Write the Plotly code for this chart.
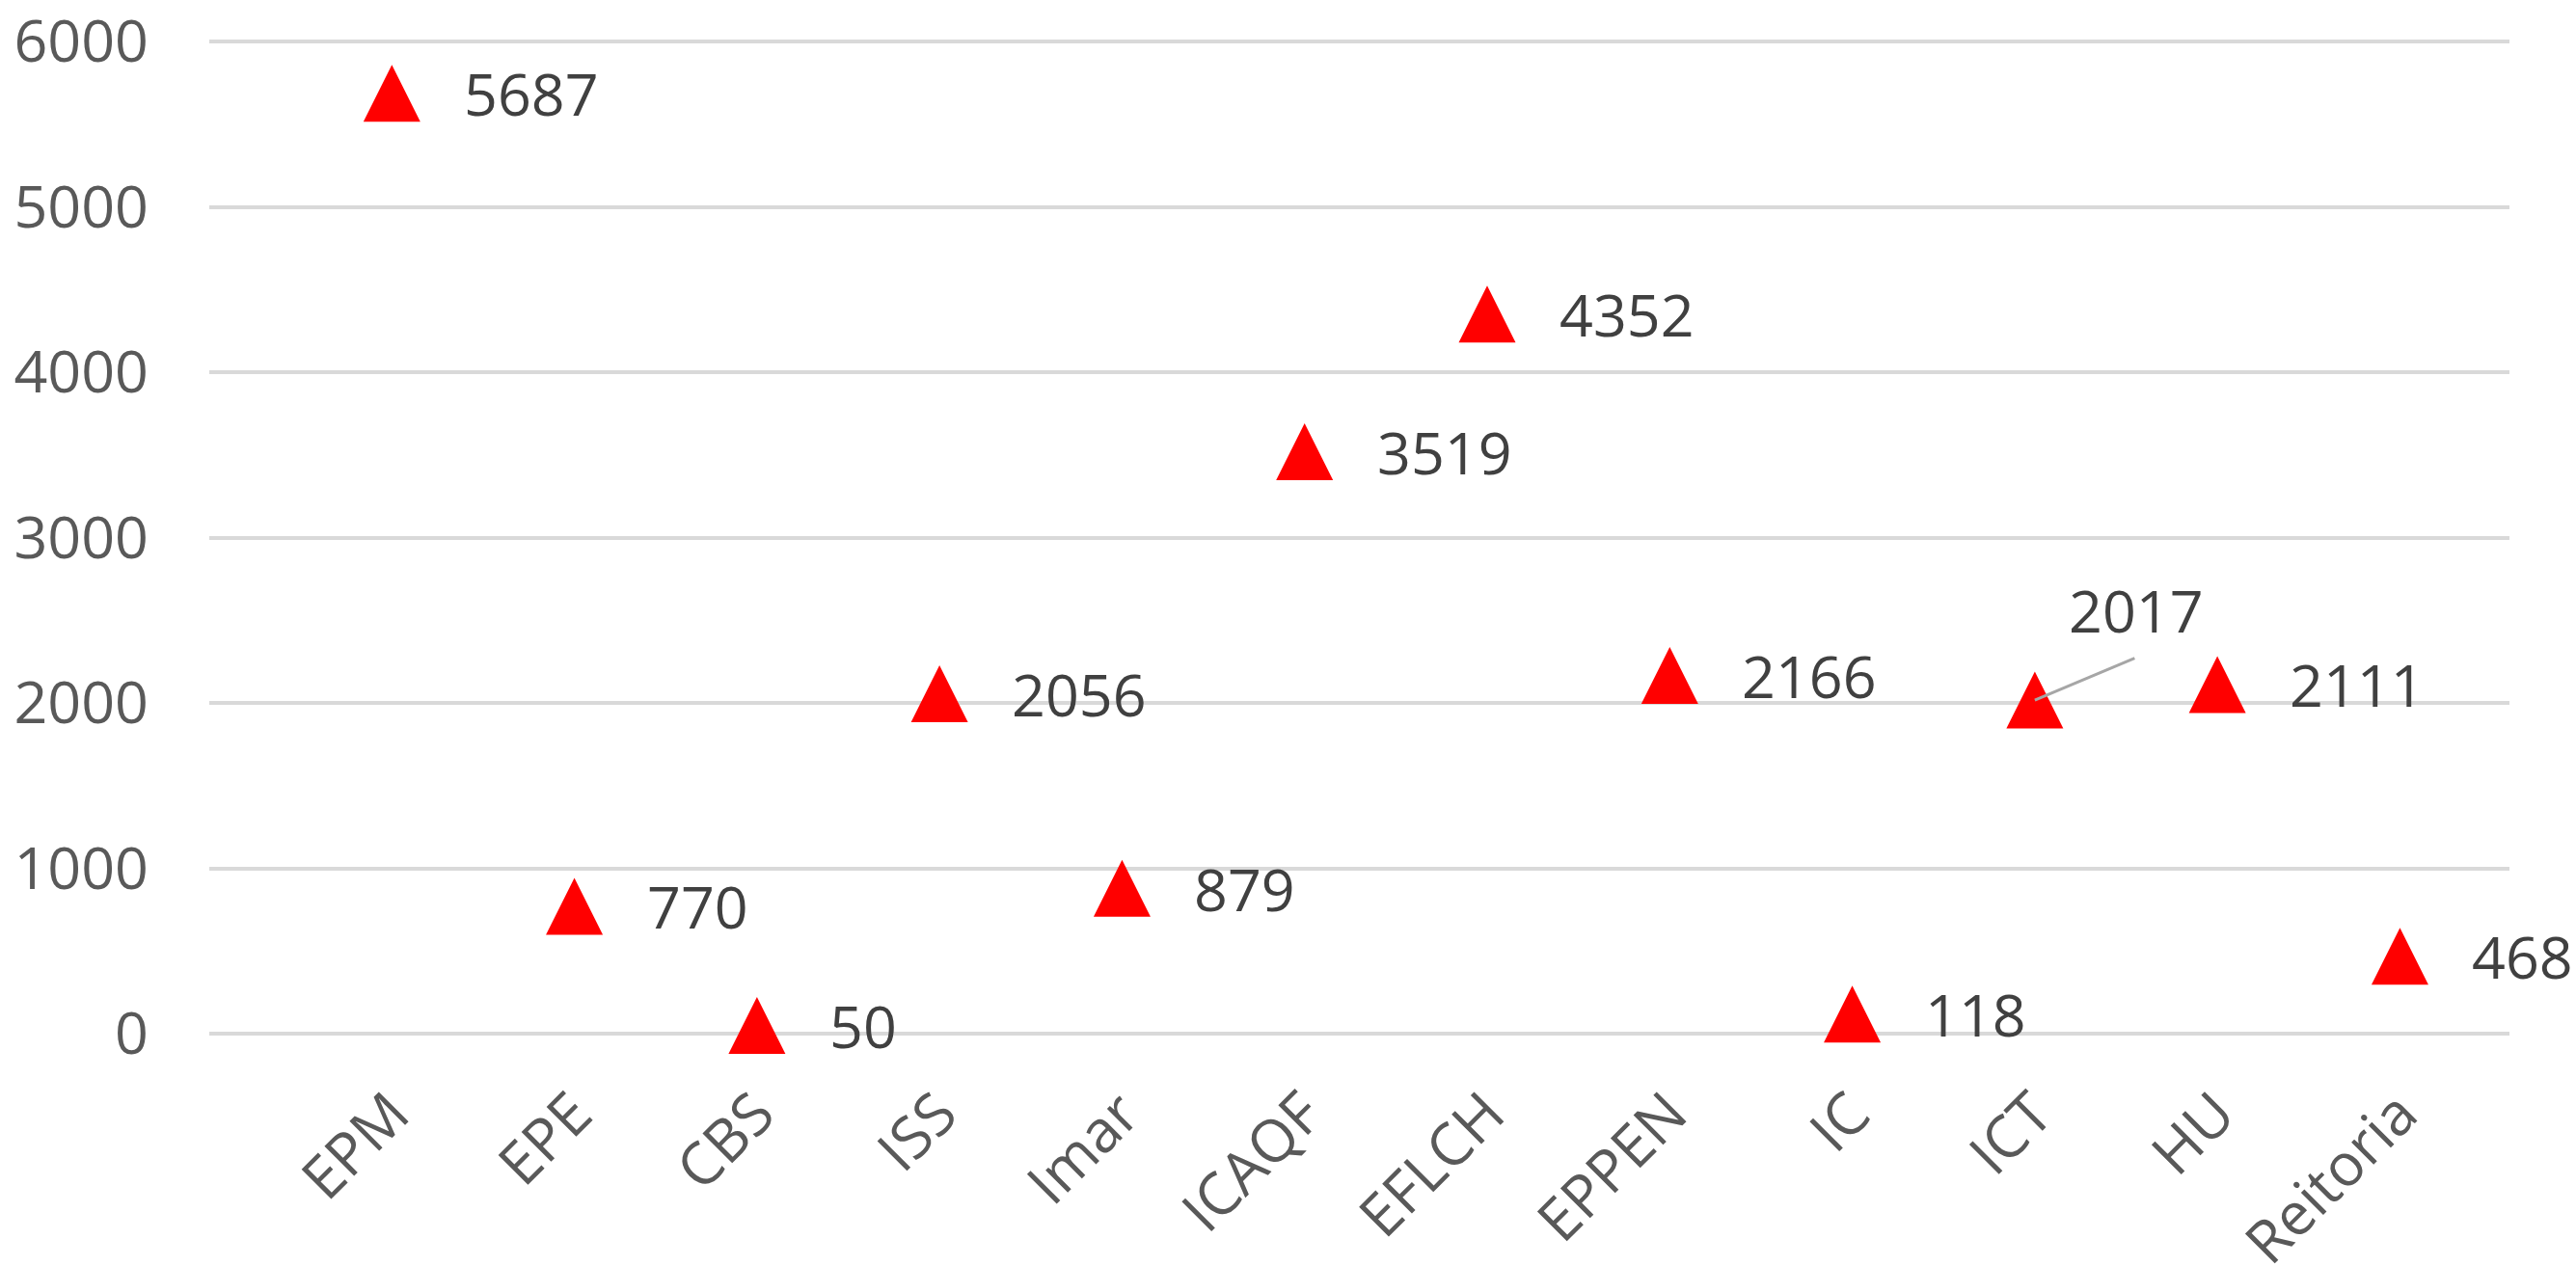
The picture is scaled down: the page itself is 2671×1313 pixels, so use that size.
import plotly.graph_objects as go

categories = ["EPM", "EPE", "CBS", "ISS", "Imar", "ICAQF", "EFLCH", "EPPEN", "IC", "ICT", "HU", "Reitoria"]
values = [5687, 770, 50, 2056, 879, 3519, 4352, 2166, 118, 2017, 2111, 468]
y_ticks = [0, 1000, 2000, 3000, 4000, 5000, 6000]

FONT = "Open Sans"
FS = 61
TICK_COLOR = "#595959"
LABEL_COLOR = "#404040"

fig = go.Figure()
fig.add_trace(go.Scatter(
    x=categories, y=values, mode="markers",
    marker=dict(symbol="arrow-down", angle=180, standoff=29.5, size=59,
                color="#ff0000", line=dict(width=0)),
    cliponaxis=False, showlegend=False, hoverinfo="skip",
))

annotations = []
for c, v in zip(categories, values):
    if c == "ICT":
        annotations.append(dict(x=c, y=v, xref="x", yref="y", text="", showarrow=True,
                                ax=105, ay=-44, arrowhead=0, arrowwidth=3,
                                arrowcolor="#a6a6a6", standoff=0, startstandoff=0))
        annotations.append(dict(x=c, y=v, xref="x", yref="y", text=str(v), showarrow=False,
                                xanchor="center", yanchor="middle", xshift=105, yshift=94,
                                font=dict(family=FONT, size=FS, color=LABEL_COLOR)))
    else:
        annotations.append(dict(x=c, y=v, xref="x", yref="y", text=str(v), showarrow=False,
                                xanchor="left", yanchor="middle", xshift=73,
                                font=dict(family=FONT, size=FS, color=LABEL_COLOR)))

fig.update_layout(
    width=2671, height=1313,
    margin=dict(l=217, r=69, t=41, b=241, pad=0),
    paper_bgcolor="white", plot_bgcolor="white",
    font=dict(family=FONT, size=FS, color=TICK_COLOR),
    annotations=annotations,
    xaxis=dict(type="category", categoryorder="array", categoryarray=categories,
               range=[-1.0, 11.6], showgrid=False, zeroline=False, showline=False,
               automargin=False, ticklabeloverflow="allow",
               tickangle=-45, ticks="", tickfont=dict(family=FONT, size=FS, color=TICK_COLOR),
               ticklabelstandoff=34),
    yaxis=dict(range=[0, 6012], tickvals=y_ticks, ticktext=[str(t) for t in y_ticks],
               automargin=False, ticklabeloverflow="allow",
               showgrid=True, gridcolor="#d9d9d9", gridwidth=4,
               zeroline=True, zerolinecolor="#d9d9d9", zerolinewidth=4,
               showline=False, ticks="", ticklabelstandoff=62,
               tickfont=dict(family=FONT, size=FS, color=TICK_COLOR)),
)

fig.write_html("out.html", config={"displayModeBar": False},
               post_script="document.body.style.margin='0';document.body.style.overflow='hidden';")
